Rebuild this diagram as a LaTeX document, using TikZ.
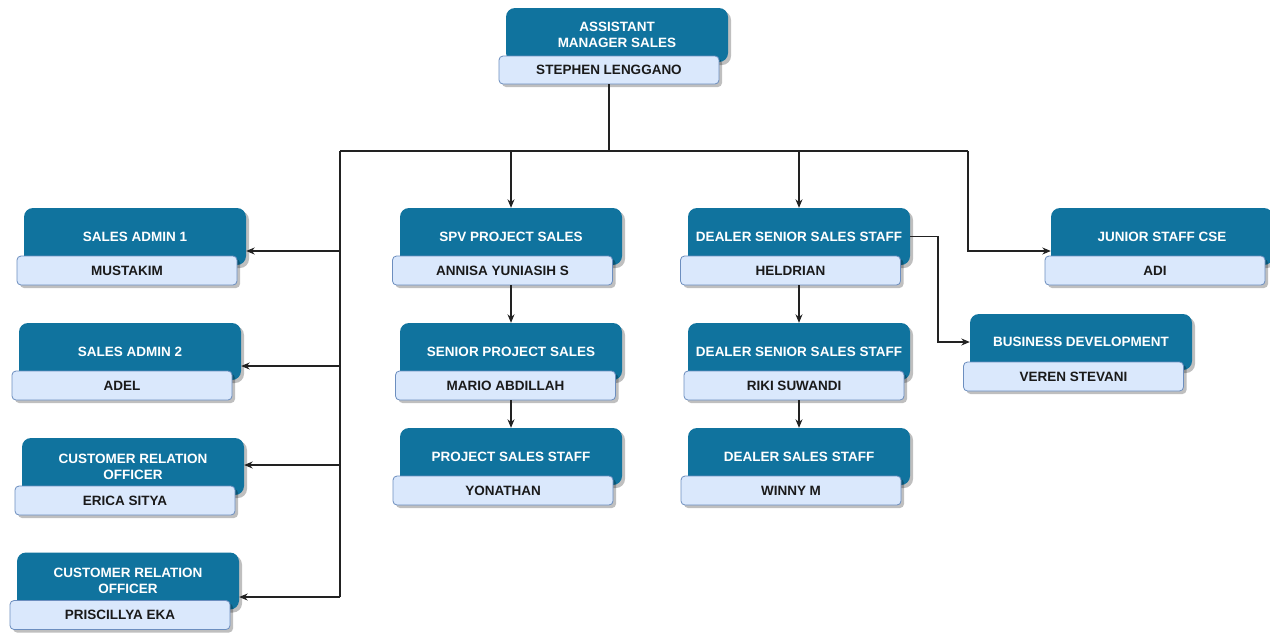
\documentclass[tikz,border=0pt]{standalone}
\usepackage{fontspec}
\setmainfont{Liberation Sans}
\usetikzlibrary{shadows,arrows.meta,calc}
\definecolor{dk}{HTML}{10739E}
\definecolor{lt}{HTML}{DAE8FC}
\definecolor{ltd}{HTML}{6C8EBF}
\definecolor{ln}{HTML}{222222}
\definecolor{txt}{HTML}{1A1A1A}
\tikzset{
  shad/.style={drop shadow={shadow xshift=3pt,shadow yshift=-3pt,opacity=0.25,fill=black}},
  darkbox/.style={fill=dk, rounded corners=9pt, minimum width=222pt, minimum height=57pt,
    inner sep=0pt, text=white, align=center, font=\fontsize{13.5}{16}\selectfont\bfseries, shad},
  namebox/.style={fill=lt, draw=ltd, line width=0.8pt, rounded corners=4pt, minimum width=220pt,
    minimum height=29pt, inner sep=0pt, text=txt, font=\fontsize{13.5}{16}\selectfont\bfseries, shad},
  conn/.style={draw=ln, line width=1.1pt},
  arr/.style={conn, -{Stealth[length=8.5pt,width=7pt]}}
}
\begin{document}
\begin{tikzpicture}[x=1pt,y=-1pt]
\useasboundingbox[fill=white] (0,0) rectangle (1270,633);
% boxes
\node[darkbox, minimum height=54pt] (topd) at (617,35) {ASSISTANT\\MANAGER SALES};
\node[namebox, minimum height=28pt] (top) at (609,70) {STEPHEN LENGGANO};

\node[darkbox] (sa1d) at (135,236.5) {SALES ADMIN 1};
\node[namebox] (sa1) at (127,270.5) {MUSTAKIM};
\node[darkbox] (sa2d) at (130,351.5) {SALES ADMIN 2};
\node[namebox] (sa2) at (122,385.5) {ADEL};
\node[darkbox] (cro1d) at (133,466.5) {CUSTOMER RELATION\\OFFICER};
\node[namebox] (cro1) at (125,500.5) {ERICA SITYA};
\node[darkbox] (cro2d) at (128,581) {CUSTOMER RELATION\\OFFICER};
\node[namebox] (cro2) at (120,615) {PRISCILLYA EKA};

\node[darkbox] (spvd) at (511,236.5) {SPV PROJECT SALES};
\node[namebox] (spv) at (502.5,270.5) {ANNISA YUNIASIH S};
\node[darkbox] (spsd) at (511,351.5) {SENIOR PROJECT SALES};
\node[namebox] (sps) at (505.5,385.5) {MARIO ABDILLAH};
\node[darkbox] (pssd) at (511,456.5) {PROJECT SALES STAFF};
\node[namebox] (pss) at (503,490.5) {YONATHAN};

\node[darkbox] (ds1d) at (799,236.5) {DEALER SENIOR SALES STAFF};
\node[namebox] (ds1) at (790.5,270.5) {HELDRIAN};
\node[darkbox] (ds2d) at (799,351.5) {DEALER SENIOR SALES STAFF};
\node[namebox] (ds2) at (794,385.5) {RIKI SUWANDI};
\node[darkbox] (dsd) at (799,456.5) {DEALER SALES STAFF};
\node[namebox] (ds) at (791,490.5) {WINNY M};

\node[darkbox] (jscd) at (1162,236.5) {JUNIOR STAFF CSE};
\node[namebox] (jsc) at (1155,270.5) {ADI};
\node[darkbox, minimum height=56pt] (bdd) at (1081,342) {BUSINESS DEVELOPMENT};
\node[namebox] (bd) at (1073.5,376.5) {VEREN STEVANI};

% connectors
\coordinate (busL) at (340,151);
\coordinate (busR) at (968,151);
\coordinate (busM) at (top.south |- busL);
\coordinate (lbot) at (340,597);
\coordinate (l1) at (340,251);
\coordinate (l2) at (340,366);
\coordinate (l3) at (340,465);
\coordinate (r1) at (968,251);
\coordinate (bdx) at (938,0);

\draw[conn] (top.south) -- (busM);
\draw[conn] (busL) -- (busR);
\draw[conn] (busL) -- (lbot);
\draw[arr] (l1) -- (l1 -| sa1d.east);
\draw[arr] (l2) -- (l2 -| sa2d.east);
\draw[arr] (l3) -- (l3 -| cro1d.east);
\draw[arr] (lbot) -- (lbot -| cro2d.east);
\draw[arr] (spvd.north |- busL) -- (spvd.north);
\draw[arr] (ds1d.north |- busL) -- (ds1d.north);
\draw[arr] (busR) -- (r1) -- (r1 -| jscd.west);

\draw[arr] (spvd.south |- spv.south) -- (spsd.north);
\draw[arr] (spsd.south |- sps.south) -- (pssd.north);
\draw[arr] (ds1d.south |- ds1.south) -- (ds2d.north);
\draw[arr] (ds2d.south |- ds2.south) -- (dsd.north);
\draw[arr] (ds1d.east) -| (bdx |- bdd.west) -- (bdd.west);
\end{tikzpicture}
\end{document}
